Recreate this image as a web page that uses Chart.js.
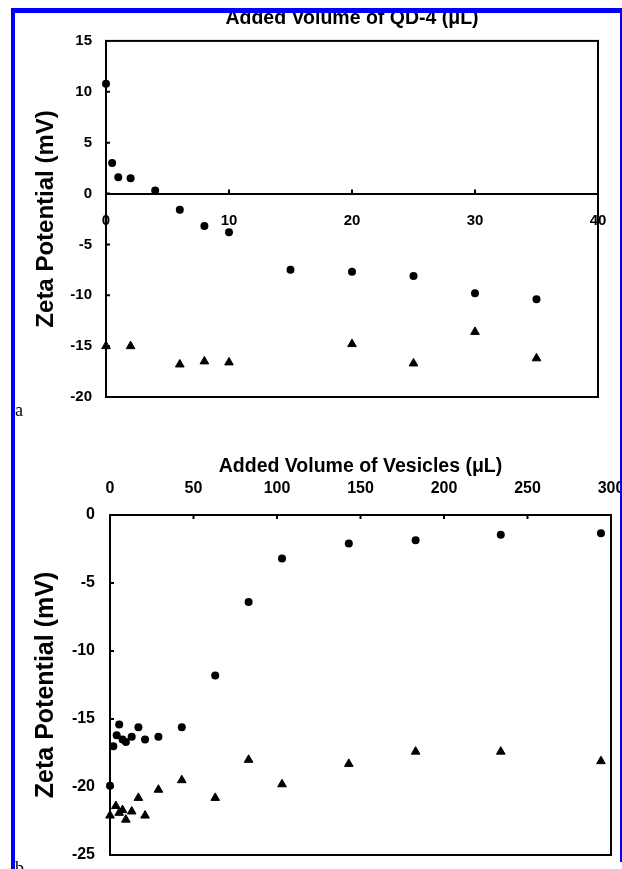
<!DOCTYPE html>
<html>
<head>
<meta charset="utf-8">
<script src="https://cdn.jsdelivr.net/npm/chart.js@4.4.1/dist/chart.umd.min.js"></script>
<style>
  html, body { margin: 0; padding: 0; background: #fff; }
  #page { position: relative; width: 622px; height: 869px; overflow: hidden; background: #fff; }
  #page canvas { position: absolute; left: 0; }
  .blue { position: absolute; background: #0000ff; }
  .tag { position: absolute; font-family: 'Liberation Serif', 'Times New Roman', serif; font-size: 18px; line-height: 1; color: #000; }
</style>
</head>
<body>
<div id="page">
  <canvas id="chart_a" width="622" height="440" style="top:0px"></canvas>
  <canvas id="chart_b" width="622" height="429" style="top:440px"></canvas>
  <span class="tag" style="left:15px; top:401px">a</span>
  <span class="tag" style="left:15px; top:859px">b</span>
  <div class="blue" style="left:11px; top:8px; width:611px; height:5px"></div>
  <div class="blue" style="left:11px; top:8px; width:4px; height:861px"></div>
  <div class="blue" style="left:620px; top:8px; width:2px; height:854px"></div>
</div>
<script>
// panel a : QD-4 added
const qdVolume = [0, 0.5, 1, 2, 4, 6, 8, 10, 15, 20, 25, 30, 35]
const qdZetaCircle = [10.8, 3.0, 1.6, 1.5, 0.3, -1.6, -3.2, -3.8, -7.5, -7.7, -8.1, -9.8, -10.4]
const qdVolumeTri = [0, 2, 6, 8, 10, 20, 25, 30, 35]
const qdZetaTri = [-15.0, -15.0, -16.8, -16.5, -16.6, -14.8, -16.7, -13.6, -16.2]
const qdTicksX = [0, 10, 20, 30, 40]
const qdTicksY = [-20, -15, -10, -5, 0, 5, 10, 15]

// panel b : vesicles added
const vesVolume = [0, 2, 4, 5.5, 7.5, 9.5, 13, 17, 21, 29, 43, 63, 83, 103, 143, 183, 234, 294]
const vesZetaCircle = [-19.9, -17.0, -16.2, -15.4, -16.5, -16.7, -16.3, -15.6, -16.5, -16.3, -15.6, -11.8, -6.4, -3.2, -2.1, -1.85, -1.45, -1.35]
const vesVolumeTri = [0, 3.5, 5.5, 7.5, 9.5, 13, 17, 21, 29, 43, 63, 83, 103, 143, 183, 234, 294]
const vesZetaTri = [-22.1, -21.4, -21.9, -21.7, -22.4, -21.8, -20.8, -22.1, -20.2, -19.5, -20.8, -18.0, -19.8, -18.3, -17.4, -17.4, -18.1]
const vesTicksX = [0, 50, 100, 150, 200, 250, 300]
const vesTicksY = [-25, -20, -15, -10, -5, 0]

Chart.defaults.font.family = "'Liberation Sans', Arial, Helvetica, sans-serif"
Chart.defaults.font.weight = 'bold'
Chart.defaults.color = '#000'

const pts = (xs, ys) => xs.map((x, i) => ({x: x, y: ys[i]}))
const fixTicks = (list) => (scale) => { scale.ticks = list.map(v => ({value: v})) }
// fixed axis box sizes so the plot areas land where the original has them
const fixSize = (w, h) => (scale) => {
    if (w != null) scale.width = w
    if (h != null) scale.height = h
    scale.paddingLeft = scale.paddingRight = scale.paddingTop = scale.paddingBottom = 0
}

// box round the plot + short tick marks pointing inward
const frame = {
    id: 'frame',
    beforeDatasetsDraw(chart, args, opts) {
        const {ctx, chartArea: a, scales: {x, y}} = chart
        ctx.save()
        ctx.strokeStyle = '#000'
        ctx.lineWidth = 2
        ctx.strokeRect(a.left, a.top, a.right - a.left, a.bottom - a.top)
        ctx.beginPath()
        const onTop = opts.xAxisAt === 'top'
        const base = onTop ? a.top : y.getPixelForValue(opts.xAxisAt)
        const dir = onTop ? 1 : -1
        x.ticks.forEach(t => {
            const px = x.getPixelForValue(t.value)
            ctx.moveTo(px, base)
            ctx.lineTo(px, base + dir * opts.tick)
        })
        y.ticks.forEach(t => {
            const py = y.getPixelForValue(t.value)
            ctx.moveTo(a.left, py)
            ctx.lineTo(a.left + opts.tick, py)
        })
        ctx.stroke()
        ctx.restore()
    }
}

const circles = (data) => ({data: data, pointStyle: 'circle', pointRadius: 4, backgroundColor: '#000', borderWidth: 0, clip: false})
const triangles = (data) => ({data: data, pointStyle: 'triangle', pointRadius: 5, backgroundColor: '#000', borderColor: '#000', borderWidth: 1, clip: false})
const noGrid = {drawOnChartArea: false, drawTicks: false}

new Chart(document.getElementById('chart_a'), {
    type: 'scatter',
    data: {datasets: [circles(pts(qdVolume, qdZetaCircle)), triangles(pts(qdVolumeTri, qdZetaTri))]},
    options: {
        responsive: false,
        animation: false,
        events: [],
        layout: {padding: {left: 0, right: 24, top: 0, bottom: 43}},
        plugins: {
            legend: {display: false},
            tooltip: {enabled: false},
            title: {
                display: true,
                text: 'Added Volume of QD-4 (μL)',
                fullSize: false,
                color: '#000',
                font: {size: 19.5, weight: 'bold'},
                padding: {top: 7, bottom: 10.5}
            },
            frame: {xAxisAt: 0, tick: 4}
        },
        scales: {
            x: {
                type: 'linear',
                min: 0, max: 40,
                position: {y: 0},
                afterBuildTicks: fixTicks(qdTicksX),
                afterFit: fixSize(null, null),
                ticks: {font: {size: 15}, padding: 18, maxRotation: 0, autoSkip: false},
                grid: noGrid,
                border: {display: true, color: '#000', width: 2}
            },
            y: {
                min: -20, max: 15,
                afterBuildTicks: fixTicks(qdTicksY),
                afterFit: fixSize(106, null),
                ticks: {font: {size: 15}, padding: 14},
                grid: noGrid,
                border: {display: false},
                title: {display: true, text: 'Zeta Potential (mV)', font: {size: 24, weight: 'bold'}, padding: {top: 31.5, bottom: 0}}
            }
        }
    },
    plugins: [frame]
})

new Chart(document.getElementById('chart_b'), {
    type: 'scatter',
    data: {datasets: [circles(pts(vesVolume, vesZetaCircle)), triangles(pts(vesVolumeTri, vesZetaTri))]},
    options: {
        responsive: false,
        animation: false,
        events: [],
        layout: {padding: {left: 0, right: 11, top: 0, bottom: 14}},
        plugins: {
            legend: {display: false},
            tooltip: {enabled: false},
            frame: {xAxisAt: 'top', tick: 4}
        },
        scales: {
            x: {
                type: 'linear',
                min: 0, max: 300,
                position: 'top',
                afterBuildTicks: fixTicks(vesTicksX),
                afterFit: fixSize(null, 75),
                ticks: {font: {size: 16}, padding: 17, maxRotation: 0, autoSkip: false},
                grid: noGrid,
                border: {display: false},
                title: {display: true, text: 'Added Volume of Vesicles (μL)', font: {size: 19.5, weight: 'bold'}, padding: {top: 15.3, bottom: 0}}
            },
            y: {
                min: -25, max: 0,
                afterBuildTicks: fixTicks(vesTicksY),
                afterFit: fixSize(110, null),
                ticks: {font: {size: 16}, padding: 15},
                grid: noGrid,
                border: {display: false},
                title: {display: true, text: 'Zeta Potential (mV)', font: {size: 25, weight: 'bold'}, padding: {top: 31, bottom: 0}}
            }
        }
    },
    plugins: [frame]
})
</script>
</body>
</html>
